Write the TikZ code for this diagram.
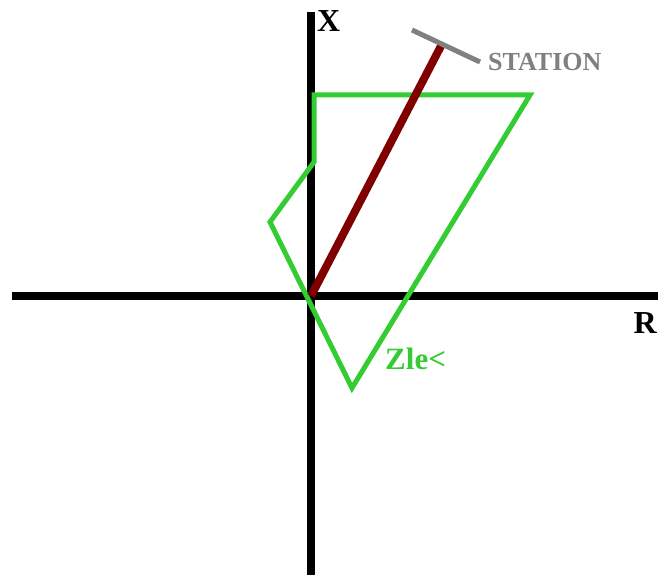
\documentclass[tikz,border=0pt]{standalone}
\usepackage{fontspec}
\setmainfont{Liberation Serif}
\usetikzlibrary{positioning}
\definecolor{TraceGreen}{RGB}{51,204,51}
\definecolor{LineRed}{RGB}{128,0,0}
\definecolor{StationGray}{RGB}{128,128,128}

\begin{document}
\begin{tikzpicture}[
        x=1pt, y=-1pt,
        axis/.style={line width=8pt, black},
        trace/.style={line width=5pt, TraceGreen, line join=miter},
        lab/.style={inner sep=0pt, font=\bfseries\fontsize{32}{32}\selectfont}
    ]
        \useasboundingbox (0,0) rectangle (658,575);
        % axes
        \coordinate (origin) at (311,296);
        \coordinate (xtop) at (311,12);
        \coordinate (xbot) at (311,575);
        \coordinate (rleft) at (12,296);
        \coordinate (rright) at (658,296);
        \draw[axis] (xbot) -- (xtop);
        \draw[axis] (rleft) -- (rright);
        \node[lab, anchor=west] (xlab) at (317,21) {X};
        \node[lab, anchor=east] (rlab) at (657,323) {R};
        % green trace
        \coordinate (g1) at (314,95);
        \coordinate (g2) at (530,95);
        \coordinate (g3) at (352,388);
        \coordinate (g4) at (270,222);
        \coordinate (g5) at (314,162);
        \draw[trace] (g1) -- (g2) -- (g3) -- (g4) -- (g5) -- cycle;
        \node[lab, anchor=west, TraceGreen, font=\bfseries\fontsize{31}{31}\selectfont] (zlab) at (385,359) {Zle<};
        % line to the station
        \coordinate (top) at (441,46);
        \draw[line width=8pt, LineRed] (origin) -- (top);
        \coordinate (s1) at (412,30);
        \coordinate (s2) at (480,62);
        \draw[line width=5pt, StationGray] (s1) -- (s2);
        \node[lab, anchor=west, StationGray, font=\bfseries\fontsize{26}{26}\selectfont] (slab) at (488,62) {STATION};
    \end{tikzpicture}
\end{document}
